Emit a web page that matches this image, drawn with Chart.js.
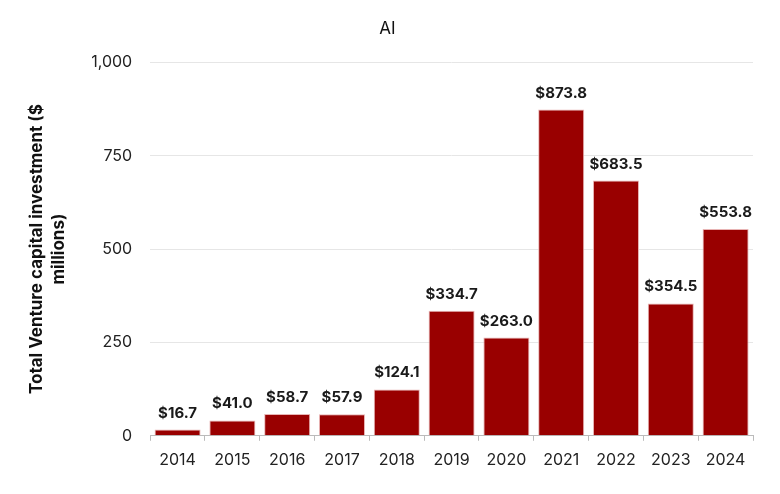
<html>
    <head>
        <title>AI venture capital</title>
        <script src="https://cdn.jsdelivr.net/npm/chart.js/dist/chart.umd.min.js"></script>
        <style>
            body { margin: 0; background: #fff; }
        </style>
    </head>
    <body>
        <canvas id="myChart" width="780" height="494"></canvas>
        <script>
            var years = ["2014", "2015", "2016", "2017", "2018", "2019", "2020", "2021", "2022", "2023", "2024"];
            var investment = [16.7, 41.0, 58.7, 57.9, 124.1, 334.7, 263.0, 873.8, 683.5, 354.5, 553.8];
            var yTicks = [0, 250, 500, 750, 1000];

            // draws "$x.x" above each bar
            var valueLabels = {
                id: 'valueLabels',
                afterDatasetsDraw(chart) {
                    var ctx = chart.ctx;
                    var meta = chart.getDatasetMeta(0);
                    ctx.save();
                    ctx.font = 'bold 15px Inter';
                    ctx.fillStyle = '#1a1a1a';
                    ctx.textAlign = 'center';
                    ctx.textBaseline = 'alphabetic';
                    meta.data.forEach((bar, i) => {
                        ctx.fillText('$' + investment[i].toFixed(1), bar.x, bar.y - 12);
                    });
                    ctx.restore();
                }
            };

            const ctx = document.getElementById('myChart').getContext('2d');
            const myChart = new Chart(ctx, {
                type: 'bar',
                data: {
                    labels: years,
                    datasets: [{
                        label: 'AI',
                        data: investment,
                        backgroundColor: '#990000',
                        borderColor: '#e8b4b4',
                        borderWidth: 1,
                        barPercentage: 0.84,
                        categoryPercentage: 1.0,
                    }]
                },
                options: {
                    responsive: false,
                    animation: false,
                    layout: { padding: { left: 22, right: 27, top: 8, bottom: 14 } },
                    plugins: {
                        legend: { display: false },
                        tooltip: { enabled: false },
                        title: {
                            display: true,
                            text: 'AI',
                            color: '#111',
                            font: { family: 'Inter', size: 17, weight: 'normal' },
                            padding: { top: 11, bottom: 23 }
                        }
                    },
                    scales: {
                        x: {
                            grid: {
                                offset: true,
                                drawOnChartArea: false,
                                drawTicks: true,
                                tickLength: 5,
                                color: '#bbbbbb'
                            },
                            border: { display: true, color: '#bbbbbb' },
                            ticks: {
                                color: '#222',
                                padding: 10,
                                font: { family: 'Inter', size: 16 }
                            }
                        },
                        y: {
                            min: 0,
                            max: 1000,
                            afterBuildTicks: axis => { axis.ticks = yTicks.map(v => ({ value: v })); },
                            grid: { color: '#e6e6e6', drawTicks: false },
                            border: { display: false },
                            ticks: {
                                color: '#222',
                                padding: 18,
                                font: { family: 'Inter', size: 16 },
                                callback: v => v.toLocaleString('en-US')
                            },
                            title: {
                                display: true,
                                text: ['Total Venture capital investment ($', 'millions)'],
                                color: '#111',
                                font: { family: 'Inter', size: 17, weight: 'bold', lineHeight: 1.3 },
                                padding: { bottom: 3 }
                            }
                        }
                    }
                },
                plugins: [valueLabels]
            });
        </script>
    </body>
</html>
